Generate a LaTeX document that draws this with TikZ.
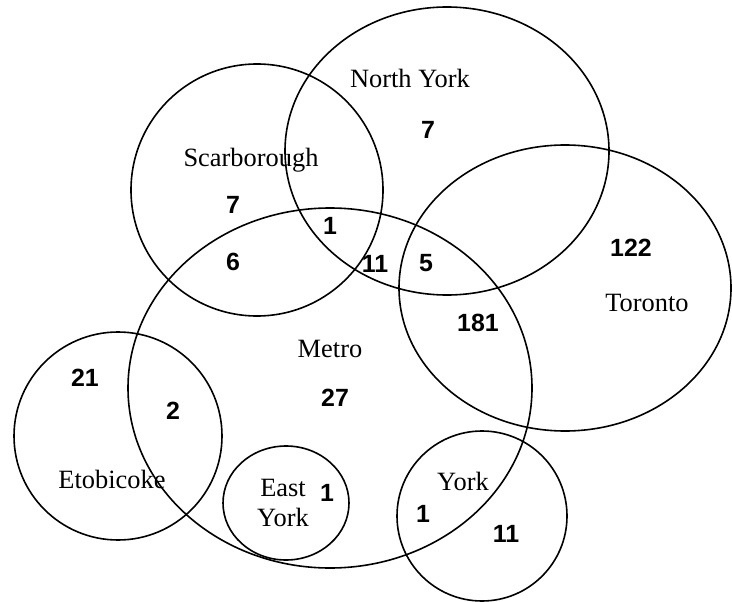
\documentclass[tikz,border=0pt]{standalone}
\usepackage{fontspec}
\setmainfont{Liberation Serif}
\newfontfamily\numfont{Liberation Sans}
\usetikzlibrary{positioning}
\tikzset{
  % outline of one municipality
  area/.style = {draw=black, line width=1.6bp},
  lbl/.style  = {font=\fontsize{26.5}{31}\selectfont, inner sep=0pt, align=center},
  num/.style  = {font=\numfont\bfseries\fontsize{25}{27}\selectfont, inner sep=0pt},
}

\begin{document}
\begin{tikzpicture}[x=1bp,y=-1bp]
\useasboundingbox (0,0) rectangle (732,602);
% outlines
\draw[area] (257,190) circle [radius=126];
\draw[area] (447,151) ellipse [x radius=162, y radius=144];
\draw[area] (565,288) ellipse [x radius=166, y radius=143];
\draw[area] (330,388) ellipse [x radius=202, y radius=180];
\draw[area] (118,436) circle [radius=104];
\draw[area] (286,503) ellipse [x radius=63, y radius=57];
\draw[area] (482,516) circle [radius=85];
% names
\node[lbl] (northyork) at (410,78) {North York};
\node[lbl] (scarb)     at (251,160) {Scarborough};
\node[lbl] (toronto)   at (647,303) {Toronto};
\node[lbl] (metro)     at (330,349) {Metro};
\node[lbl] (etob)      at (112,479) {Etobicoke};
\node[lbl] (eastyork)  at (283,503) {East\\York};
\node[lbl] (york)      at (463,481) {York};
% counts
\node[num] (nNY)   at (428,130) {7};
\node[num] (nSC)   at (233,205) {7};
\node[num] (nSCM)  at (233,262) {6};
\node[num] (nSCNY) at (330,226) {1};
\node[num] (nNYM)  at (375,264) {11};
\node[num] (nNYT)  at (426,263) {5};
\node[num] (nT)    at (631,248) {122};
\node[num] (nTM)   at (478,323) {181};
\node[num] (nM)    at (335,398) {27};
\node[num] (nE)    at (85,378)  {21};
\node[num] (nEM)   at (173,411) {2};
\node[num] (nEY)   at (327,493) {1};
\node[num] (nYM)   at (423,514) {1};
\node[num] (nY)    at (506,534) {11};
\end{tikzpicture}
\end{document}
